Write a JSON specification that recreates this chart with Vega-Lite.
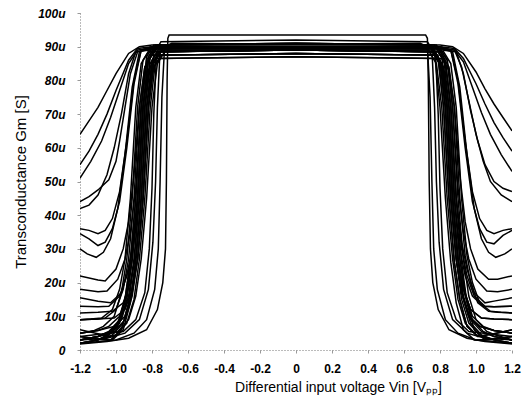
{
"$schema":"https://vega.github.io/schema/vega-lite/v6.json",
"width":432,"height":337,
"autosize":{"type":"none"},
"padding":{"left":80,"top":13,"right":17,"bottom":55},
"background":"white",
"config":{"view":{"stroke":null},"font":"Liberation Sans","axis":{"labelOverlap":false}},
"layer":[
{"data":{"values":[
{"c":1,"x":-1.2,"y":2},{"c":1,"x":-1.1,"y":3},{"c":1,"x":-1.02,"y":4.5},{"c":1,"x":-0.96,"y":8},{"c":1,"x":-0.92,"y":15},{"c":1,"x":-0.89,"y":27},{"c":1,"x":-0.86,"y":45},{"c":1,"x":-0.83,"y":72},{"c":1,"x":-0.8,"y":85},{"c":1,"x":-0.76,"y":88.5},{"c":1,"x":0,"y":89},{"c":1,"x":0.77,"y":88.5},{"c":1,"x":0.81,"y":85},{"c":1,"x":0.84,"y":72},{"c":1,"x":0.87,"y":45},{"c":1,"x":0.9,"y":27},{"c":1,"x":0.93,"y":16},{"c":1,"x":0.97,"y":9},{"c":1,"x":1.03,"y":5.5},{"c":1,"x":1.1,"y":4},{"c":1,"x":1.2,"y":3},
{"c":2,"x":-1.2,"y":3},{"c":2,"x":-1.1,"y":4},{"c":2,"x":-1.04,"y":5.5},{"c":2,"x":-0.98,"y":9},{"c":2,"x":-0.94,"y":16},{"c":2,"x":-0.91,"y":27},{"c":2,"x":-0.88,"y":45},{"c":2,"x":-0.85,"y":72},{"c":2,"x":-0.82,"y":86},{"c":2,"x":-0.78,"y":89.5},{"c":2,"x":0,"y":90},{"c":2,"x":0.76,"y":89.5},{"c":2,"x":0.8,"y":86},{"c":2,"x":0.83,"y":72},{"c":2,"x":0.86,"y":45},{"c":2,"x":0.89,"y":27},{"c":2,"x":0.92,"y":15},{"c":2,"x":0.96,"y":8},{"c":2,"x":1.02,"y":4.5},{"c":2,"x":1.1,"y":3},{"c":2,"x":1.2,"y":2},
{"c":3,"x":-1.2,"y":5},{"c":3,"x":-1.1,"y":5.8},{"c":3,"x":-1.01,"y":7},{"c":3,"x":-0.95,"y":10},{"c":3,"x":-0.91,"y":17},{"c":3,"x":-0.88,"y":27},{"c":3,"x":-0.85,"y":45},{"c":3,"x":-0.82,"y":72},{"c":3,"x":-0.79,"y":84},{"c":3,"x":-0.75,"y":87.5},{"c":3,"x":0,"y":88},{"c":3,"x":0.78,"y":87.5},{"c":3,"x":0.82,"y":84},{"c":3,"x":0.85,"y":72},{"c":3,"x":0.88,"y":45},{"c":3,"x":0.91,"y":27},{"c":3,"x":0.94,"y":17},{"c":3,"x":0.98,"y":10},{"c":3,"x":1.04,"y":7},{"c":3,"x":1.1,"y":5.8},{"c":3,"x":1.2,"y":5},
{"c":4,"x":-1.2,"y":4},{"c":4,"x":-1.1,"y":3.2},{"c":4,"x":-1.03,"y":3},{"c":4,"x":-0.97,"y":6},{"c":4,"x":-0.93,"y":14},{"c":4,"x":-0.9,"y":26},{"c":4,"x":-0.87,"y":45},{"c":4,"x":-0.84,"y":72},{"c":4,"x":-0.81,"y":87},{"c":4,"x":-0.77,"y":90.5},{"c":4,"x":0,"y":91},{"c":4,"x":0.75,"y":90.5},{"c":4,"x":0.79,"y":87},{"c":4,"x":0.82,"y":72},{"c":4,"x":0.85,"y":45},{"c":4,"x":0.88,"y":26},{"c":4,"x":0.91,"y":15},{"c":4,"x":0.95,"y":7},{"c":4,"x":1.01,"y":4},{"c":4,"x":1.1,"y":4.8},{"c":4,"x":1.2,"y":6},
{"c":5,"x":-1.2,"y":6},{"c":5,"x":-1.1,"y":4.8},{"c":5,"x":-1.05,"y":4},{"c":5,"x":-0.99,"y":7},{"c":5,"x":-0.95,"y":15},{"c":5,"x":-0.92,"y":26},{"c":5,"x":-0.89,"y":45},{"c":5,"x":-0.86,"y":72},{"c":5,"x":-0.83,"y":85},{"c":5,"x":-0.79,"y":88.5},{"c":5,"x":0,"y":89},{"c":5,"x":0.79,"y":88.5},{"c":5,"x":0.83,"y":85},{"c":5,"x":0.86,"y":72},{"c":5,"x":0.89,"y":45},{"c":5,"x":0.92,"y":26},{"c":5,"x":0.95,"y":14},{"c":5,"x":0.99,"y":6},{"c":5,"x":1.05,"y":3},{"c":5,"x":1.1,"y":3.2},{"c":5,"x":1.2,"y":4},
{"c":6,"x":-1.2,"y":2},{"c":6,"x":-1.1,"y":3},{"c":6,"x":-1.0,"y":4.5},{"c":6,"x":-0.94,"y":8},{"c":6,"x":-0.9,"y":15},{"c":6,"x":-0.87,"y":27},{"c":6,"x":-0.84,"y":45},{"c":6,"x":-0.81,"y":72},{"c":6,"x":-0.78,"y":86},{"c":6,"x":-0.74,"y":89.5},{"c":6,"x":0,"y":90},{"c":6,"x":0.8,"y":89.5},{"c":6,"x":0.84,"y":86},{"c":6,"x":0.87,"y":72},{"c":6,"x":0.9,"y":45},{"c":6,"x":0.93,"y":27},{"c":6,"x":0.96,"y":16},{"c":6,"x":1.0,"y":9},{"c":6,"x":1.06,"y":5.5},{"c":6,"x":1.1,"y":4.6},{"c":6,"x":1.2,"y":3},
{"c":7,"x":-1.2,"y":9},{"c":7,"x":-1.1,"y":9.2},{"c":7,"x":-1.06,"y":9.5},{"c":7,"x":-1.0,"y":12},{"c":7,"x":-0.96,"y":18},{"c":7,"x":-0.93,"y":27},{"c":7,"x":-0.9,"y":45},{"c":7,"x":-0.87,"y":72},{"c":7,"x":-0.84,"y":84},{"c":7,"x":-0.8,"y":87.5},{"c":7,"x":0,"y":88},{"c":7,"x":0.77,"y":87.5},{"c":7,"x":0.81,"y":84},{"c":7,"x":0.84,"y":72},{"c":7,"x":0.87,"y":45},{"c":7,"x":0.9,"y":27},{"c":7,"x":0.93,"y":18},{"c":7,"x":0.97,"y":12},{"c":7,"x":1.03,"y":9.5},{"c":7,"x":1.1,"y":9.2},{"c":7,"x":1.2,"y":9},
{"c":8,"x":-1.2,"y":11},{"c":8,"x":-1.1,"y":11.2},{"c":8,"x":-1.02,"y":11.5},{"c":8,"x":-0.96,"y":14},{"c":8,"x":-0.92,"y":20},{"c":8,"x":-0.89,"y":28},{"c":8,"x":-0.86,"y":45},{"c":8,"x":-0.83,"y":72},{"c":8,"x":-0.8,"y":83},{"c":8,"x":-0.76,"y":86.5},{"c":8,"x":0,"y":87},{"c":8,"x":0.81,"y":86.5},{"c":8,"x":0.85,"y":83},{"c":8,"x":0.88,"y":72},{"c":8,"x":0.91,"y":45},{"c":8,"x":0.94,"y":28},{"c":8,"x":0.97,"y":20},{"c":8,"x":1.01,"y":14},{"c":8,"x":1.07,"y":11.5},{"c":8,"x":1.12,"y":11.2},{"c":8,"x":1.2,"y":11},
{"c":9,"x":-1.2,"y":13},{"c":9,"x":-1.1,"y":12.8},{"c":9,"x":-1.04,"y":13},{"c":9,"x":-0.98,"y":16},{"c":9,"x":-0.94,"y":22},{"c":9,"x":-0.91,"y":30},{"c":9,"x":-0.88,"y":45},{"c":9,"x":-0.85,"y":72},{"c":9,"x":-0.82,"y":87},{"c":9,"x":-0.78,"y":90.5},{"c":9,"x":0,"y":91},{"c":9,"x":0.78,"y":90.5},{"c":9,"x":0.82,"y":87},{"c":9,"x":0.85,"y":72},{"c":9,"x":0.88,"y":45},{"c":9,"x":0.91,"y":30},{"c":9,"x":0.94,"y":22},{"c":9,"x":0.98,"y":16},{"c":9,"x":1.04,"y":13},{"c":9,"x":1.1,"y":12.8},{"c":9,"x":1.2,"y":13},
{"c":10,"x":-1.2,"y":15.5},{"c":10,"x":-1.1,"y":14.5},{"c":10,"x":-1.03,"y":14},{"c":10,"x":-0.97,"y":17},{"c":10,"x":-0.93,"y":24},{"c":10,"x":-0.9,"y":32},{"c":10,"x":-0.87,"y":45},{"c":10,"x":-0.84,"y":72},{"c":10,"x":-0.81,"y":85},{"c":10,"x":-0.77,"y":88.5},{"c":10,"x":0,"y":89},{"c":10,"x":0.79,"y":88.5},{"c":10,"x":0.83,"y":85},{"c":10,"x":0.86,"y":72},{"c":10,"x":0.89,"y":45},{"c":10,"x":0.92,"y":32},{"c":10,"x":0.95,"y":24},{"c":10,"x":0.99,"y":17},{"c":10,"x":1.05,"y":14},{"c":10,"x":1.1,"y":14.5},{"c":10,"x":1.2,"y":15.5},
{"c":11,"x":-1.2,"y":18},{"c":11,"x":-1.1,"y":17.3},{"c":11,"x":-1.05,"y":17.5},{"c":11,"x":-0.99,"y":21},{"c":11,"x":-0.95,"y":27},{"c":11,"x":-0.92,"y":35},{"c":11,"x":-0.89,"y":48},{"c":11,"x":-0.86,"y":72},{"c":11,"x":-0.83,"y":86},{"c":11,"x":-0.79,"y":89.5},{"c":11,"x":0,"y":90},{"c":11,"x":0.8,"y":89.5},{"c":11,"x":0.84,"y":86},{"c":11,"x":0.87,"y":72},{"c":11,"x":0.9,"y":48},{"c":11,"x":0.93,"y":35},{"c":11,"x":0.96,"y":27},{"c":11,"x":1.0,"y":21},{"c":11,"x":1.06,"y":17.5},{"c":11,"x":1.12,"y":17.3},{"c":11,"x":1.2,"y":18},
{"c":12,"x":-1.2,"y":22},{"c":12,"x":-1.1,"y":20.8},{"c":12,"x":-1.06,"y":20.5},{"c":12,"x":-1.0,"y":24},{"c":12,"x":-0.96,"y":30},{"c":12,"x":-0.93,"y":38},{"c":12,"x":-0.9,"y":52},{"c":12,"x":-0.87,"y":72},{"c":12,"x":-0.84,"y":84},{"c":12,"x":-0.8,"y":87.5},{"c":12,"x":0,"y":88},{"c":12,"x":0.81,"y":87.5},{"c":12,"x":0.85,"y":84},{"c":12,"x":0.88,"y":72},{"c":12,"x":0.91,"y":52},{"c":12,"x":0.94,"y":38},{"c":12,"x":0.97,"y":30},{"c":12,"x":1.01,"y":24},{"c":12,"x":1.07,"y":21},{"c":12,"x":1.12,"y":21},{"c":12,"x":1.2,"y":22},
{"c":13,"x":-1.2,"y":3},{"c":13,"x":-1.1,"y":4},{"c":13,"x":-0.99,"y":5.5},{"c":13,"x":-0.93,"y":9},{"c":13,"x":-0.89,"y":16},{"c":13,"x":-0.86,"y":27},{"c":13,"x":-0.83,"y":45},{"c":13,"x":-0.8,"y":72},{"c":13,"x":-0.77,"y":85},{"c":13,"x":-0.73,"y":88.5},{"c":13,"x":0,"y":89},{"c":13,"x":0.74,"y":88.5},{"c":13,"x":0.78,"y":85},{"c":13,"x":0.81,"y":72},{"c":13,"x":0.84,"y":45},{"c":13,"x":0.87,"y":27},{"c":13,"x":0.9,"y":15},{"c":13,"x":0.94,"y":8},{"c":13,"x":1.0,"y":4.5},{"c":13,"x":1.1,"y":3},{"c":13,"x":1.2,"y":2},
{"c":14,"x":-1.2,"y":5},{"c":14,"x":-1.12,"y":5.8},{"c":14,"x":-1.07,"y":7},{"c":14,"x":-1.01,"y":10},{"c":14,"x":-0.97,"y":17},{"c":14,"x":-0.94,"y":27},{"c":14,"x":-0.91,"y":45},{"c":14,"x":-0.88,"y":72},{"c":14,"x":-0.85,"y":86},{"c":14,"x":-0.81,"y":89.5},{"c":14,"x":0,"y":90},{"c":14,"x":0.76,"y":89.5},{"c":14,"x":0.8,"y":86},{"c":14,"x":0.83,"y":72},{"c":14,"x":0.86,"y":45},{"c":14,"x":0.89,"y":27},{"c":14,"x":0.92,"y":17},{"c":14,"x":0.96,"y":10},{"c":14,"x":1.02,"y":7},{"c":14,"x":1.1,"y":5.8},{"c":14,"x":1.2,"y":5},
{"c":15,"x":-1.2,"y":3},{"c":15,"x":-1.1,"y":4},{"c":15,"x":-1.01,"y":5.5},{"c":15,"x":-0.95,"y":9},{"c":15,"x":-0.91,"y":16},{"c":15,"x":-0.88,"y":27},{"c":15,"x":-0.85,"y":45},{"c":15,"x":-0.82,"y":72},{"c":15,"x":-0.79,"y":88},{"c":15,"x":-0.75,"y":91.5},{"c":15,"x":0,"y":92},{"c":15,"x":0.73,"y":91.5},{"c":15,"x":0.77,"y":88},{"c":15,"x":0.8,"y":72},{"c":15,"x":0.83,"y":45},{"c":15,"x":0.86,"y":26},{"c":15,"x":0.89,"y":14},{"c":15,"x":0.93,"y":6},{"c":15,"x":0.99,"y":3},{"c":15,"x":1.1,"y":3.2},{"c":15,"x":1.2,"y":4},
{"c":16,"x":-1.2,"y":2},{"c":16,"x":-1.1,"y":3},{"c":16,"x":-1.04,"y":4.5},{"c":16,"x":-0.98,"y":8},{"c":16,"x":-0.94,"y":15},{"c":16,"x":-0.91,"y":27},{"c":16,"x":-0.88,"y":45},{"c":16,"x":-0.85,"y":72},{"c":16,"x":-0.82,"y":83},{"c":16,"x":-0.78,"y":86.5},{"c":16,"x":0,"y":87},{"c":16,"x":0.78,"y":86.5},{"c":16,"x":0.82,"y":83},{"c":16,"x":0.85,"y":72},{"c":16,"x":0.88,"y":45},{"c":16,"x":0.91,"y":27},{"c":16,"x":0.94,"y":16},{"c":16,"x":0.98,"y":9},{"c":16,"x":1.04,"y":5.5},{"c":16,"x":1.1,"y":4},{"c":16,"x":1.2,"y":3},
{"c":17,"x":-1.2,"y":9},{"c":17,"x":-1.14,"y":9.2},{"c":17,"x":-1.08,"y":9.5},{"c":17,"x":-1.02,"y":12},{"c":17,"x":-0.98,"y":18},{"c":17,"x":-0.95,"y":27},{"c":17,"x":-0.92,"y":45},{"c":17,"x":-0.89,"y":72},{"c":17,"x":-0.86,"y":85},{"c":17,"x":-0.82,"y":88.5},{"c":17,"x":0,"y":89},{"c":17,"x":0.82,"y":88.5},{"c":17,"x":0.86,"y":85},{"c":17,"x":0.89,"y":72},{"c":17,"x":0.92,"y":45},{"c":17,"x":0.95,"y":28},{"c":17,"x":0.98,"y":20},{"c":17,"x":1.02,"y":14},{"c":17,"x":1.08,"y":11.5},{"c":17,"x":1.14,"y":11.2},{"c":17,"x":1.2,"y":11},
{"c":18,"x":-1.2,"y":4},{"c":18,"x":-1.1,"y":3.2},{"c":18,"x":-1.02,"y":3},{"c":18,"x":-0.96,"y":6},{"c":18,"x":-0.92,"y":14},{"c":18,"x":-0.89,"y":26},{"c":18,"x":-0.86,"y":45},{"c":18,"x":-0.83,"y":72},{"c":18,"x":-0.8,"y":86},{"c":18,"x":-0.76,"y":89.5},{"c":18,"x":0,"y":90},{"c":18,"x":0.75,"y":89.5},{"c":18,"x":0.79,"y":86},{"c":18,"x":0.82,"y":72},{"c":18,"x":0.85,"y":45},{"c":18,"x":0.88,"y":26},{"c":18,"x":0.91,"y":15},{"c":18,"x":0.95,"y":7},{"c":18,"x":1.01,"y":4},{"c":18,"x":1.1,"y":4.8},{"c":18,"x":1.2,"y":6},
{"c":19,"x":-1.2,"y":64},{"c":19,"x":-1.15,"y":68},{"c":19,"x":-1.1,"y":72},{"c":19,"x":-1.05,"y":77},{"c":19,"x":-1.0,"y":82},{"c":19,"x":-0.93,"y":88},{"c":19,"x":-0.87,"y":90},{"c":19,"x":-0.8,"y":90.5},{"c":19,"x":0,"y":90.5},{"c":19,"x":0.8,"y":90.5},{"c":19,"x":0.87,"y":90},{"c":19,"x":0.93,"y":88},{"c":19,"x":1.0,"y":82.5},{"c":19,"x":1.05,"y":77.5},{"c":19,"x":1.1,"y":73},{"c":19,"x":1.15,"y":69},{"c":19,"x":1.2,"y":65},
{"c":20,"x":-1.2,"y":55},{"c":20,"x":-1.15,"y":59},{"c":20,"x":-1.1,"y":64},{"c":20,"x":-1.05,"y":70},{"c":20,"x":-1.0,"y":77},{"c":20,"x":-0.93,"y":86},{"c":20,"x":-0.88,"y":89.5},{"c":20,"x":-0.8,"y":90},{"c":20,"x":0,"y":90},{"c":20,"x":0.8,"y":90},{"c":20,"x":0.88,"y":89.5},{"c":20,"x":0.93,"y":86.5},{"c":20,"x":1.0,"y":79},{"c":20,"x":1.05,"y":73},{"c":20,"x":1.1,"y":67.5},{"c":20,"x":1.15,"y":63},{"c":20,"x":1.2,"y":59},
{"c":21,"x":-1.2,"y":51},{"c":21,"x":-1.14,"y":56},{"c":21,"x":-1.08,"y":62},{"c":21,"x":-1.03,"y":69},{"c":21,"x":-0.98,"y":77},{"c":21,"x":-0.93,"y":85},{"c":21,"x":-0.88,"y":89},{"c":21,"x":-0.8,"y":89.5},{"c":21,"x":0,"y":89.5},{"c":21,"x":0.8,"y":89.5},{"c":21,"x":0.88,"y":89},{"c":21,"x":0.93,"y":85.5},{"c":21,"x":0.98,"y":78},{"c":21,"x":1.03,"y":70.5},{"c":21,"x":1.08,"y":64},{"c":21,"x":1.14,"y":58},{"c":21,"x":1.2,"y":53},
{"c":22,"x":-1.2,"y":44},{"c":22,"x":-1.15,"y":45.5},{"c":22,"x":-1.1,"y":47.5},{"c":22,"x":-1.04,"y":50.5},{"c":22,"x":-1.0,"y":56},{"c":22,"x":-0.98,"y":62},{"c":22,"x":-0.95,"y":72},{"c":22,"x":-0.92,"y":82},{"c":22,"x":-0.88,"y":88.5},{"c":22,"x":-0.81,"y":89.5},{"c":22,"x":0,"y":89.5},{"c":22,"x":0.8,"y":89.5},{"c":22,"x":0.88,"y":89},{"c":22,"x":0.92,"y":84},{"c":22,"x":0.96,"y":74},{"c":22,"x":1.0,"y":64},{"c":22,"x":1.04,"y":56},{"c":22,"x":1.08,"y":50},{"c":22,"x":1.14,"y":46},{"c":22,"x":1.2,"y":44},
{"c":23,"x":-1.2,"y":42},{"c":23,"x":-1.15,"y":43},{"c":23,"x":-1.1,"y":46},{"c":23,"x":-1.05,"y":52},{"c":23,"x":-1.01,"y":60},{"c":23,"x":-0.97,"y":70},{"c":23,"x":-0.93,"y":82},{"c":23,"x":-0.89,"y":88.5},{"c":23,"x":-0.81,"y":89},{"c":23,"x":0,"y":89},{"c":23,"x":0.81,"y":89},{"c":23,"x":0.89,"y":88.5},{"c":23,"x":0.93,"y":82},{"c":23,"x":0.97,"y":71},{"c":23,"x":1.01,"y":62},{"c":23,"x":1.05,"y":55},{"c":23,"x":1.1,"y":50},{"c":23,"x":1.15,"y":48},{"c":23,"x":1.2,"y":47},
{"c":24,"x":-1.2,"y":36},{"c":24,"x":-1.15,"y":35.5},{"c":24,"x":-1.1,"y":34.5},{"c":24,"x":-1.06,"y":35.5},{"c":24,"x":-1.02,"y":39},{"c":24,"x":-0.98,"y":47},{"c":24,"x":-0.94,"y":62},{"c":24,"x":-0.9,"y":80},{"c":24,"x":-0.86,"y":89},{"c":24,"x":-0.8,"y":90},{"c":24,"x":0,"y":90},{"c":24,"x":0.8,"y":90},{"c":24,"x":0.86,"y":89},{"c":24,"x":0.9,"y":80},{"c":24,"x":0.94,"y":62},{"c":24,"x":0.98,"y":47},{"c":24,"x":1.02,"y":39},{"c":24,"x":1.06,"y":35.5},{"c":24,"x":1.1,"y":34.5},{"c":24,"x":1.15,"y":35.5},{"c":24,"x":1.2,"y":36},
{"c":25,"x":-1.2,"y":34.5},{"c":25,"x":-1.15,"y":33},{"c":25,"x":-1.1,"y":31},{"c":25,"x":-1.06,"y":32},{"c":25,"x":-1.02,"y":36},{"c":25,"x":-0.98,"y":44},{"c":25,"x":-0.94,"y":60},{"c":25,"x":-0.9,"y":79},{"c":25,"x":-0.86,"y":89},{"c":25,"x":-0.8,"y":90},{"c":25,"x":0,"y":90},{"c":25,"x":0.8,"y":90},{"c":25,"x":0.86,"y":89},{"c":25,"x":0.9,"y":79},{"c":25,"x":0.94,"y":60},{"c":25,"x":0.98,"y":44},{"c":25,"x":1.02,"y":36},{"c":25,"x":1.06,"y":32},{"c":25,"x":1.1,"y":31.5},{"c":25,"x":1.15,"y":34},{"c":25,"x":1.2,"y":35.5},
{"c":26,"x":-1.2,"y":30},{"c":26,"x":-1.16,"y":28.5},{"c":26,"x":-1.11,"y":27.5},{"c":26,"x":-1.07,"y":29},{"c":26,"x":-1.03,"y":33},{"c":26,"x":-0.99,"y":42},{"c":26,"x":-0.95,"y":58},{"c":26,"x":-0.91,"y":78},{"c":26,"x":-0.87,"y":88.5},{"c":26,"x":-0.8,"y":89.5},{"c":26,"x":0,"y":89.5},{"c":26,"x":0.8,"y":89.5},{"c":26,"x":0.87,"y":88.5},{"c":26,"x":0.91,"y":78},{"c":26,"x":0.95,"y":58},{"c":26,"x":0.99,"y":42},{"c":26,"x":1.03,"y":33},{"c":26,"x":1.07,"y":29},{"c":26,"x":1.11,"y":27.5},{"c":26,"x":1.16,"y":28.5},{"c":26,"x":1.2,"y":30},
{"c":27,"x":-1.2,"y":1.8},{"c":27,"x":-1.05,"y":2.5},{"c":27,"x":-0.93,"y":3.5},{"c":27,"x":-0.83,"y":6},{"c":27,"x":-0.77,"y":12},{"c":27,"x":-0.74,"y":20},{"c":27,"x":-0.725,"y":30},{"c":27,"x":-0.72,"y":50},{"c":27,"x":-0.716,"y":80},{"c":27,"x":-0.712,"y":92.5},{"c":27,"x":-0.705,"y":93.5},{"c":27,"x":0,"y":93.5},{"c":27,"x":0.72,"y":93.5},{"c":27,"x":0.73,"y":92.5},{"c":27,"x":0.735,"y":80},{"c":27,"x":0.74,"y":50},{"c":27,"x":0.747,"y":30},{"c":27,"x":0.76,"y":20},{"c":27,"x":0.79,"y":12},{"c":27,"x":0.85,"y":6},{"c":27,"x":0.95,"y":3.5},{"c":27,"x":1.05,"y":2.5},{"c":27,"x":1.2,"y":1.8},
{"c":28,"x":-1.2,"y":2},{"c":28,"x":-1.0,"y":3},{"c":28,"x":-0.9,"y":5},{"c":28,"x":-0.83,"y":9},{"c":28,"x":-0.785,"y":18},{"c":28,"x":-0.765,"y":30},{"c":28,"x":-0.755,"y":50},{"c":28,"x":-0.745,"y":75},{"c":28,"x":-0.73,"y":90},{"c":28,"x":-0.69,"y":91},{"c":28,"x":0,"y":90.7},{"c":28,"x":0.71,"y":90.5},{"c":28,"x":0.755,"y":89.5},{"c":28,"x":0.77,"y":72},{"c":28,"x":0.78,"y":50},{"c":28,"x":0.795,"y":32},{"c":28,"x":0.82,"y":18},{"c":28,"x":0.87,"y":9},{"c":28,"x":0.95,"y":5},{"c":28,"x":1.05,"y":3.5},{"c":28,"x":1.2,"y":3},
{"c":29,"x":-1.2,"y":3},{"c":29,"x":-1.05,"y":3.5},{"c":29,"x":-0.95,"y":5},{"c":29,"x":-0.87,"y":9},{"c":29,"x":-0.82,"y":18},{"c":29,"x":-0.795,"y":32},{"c":29,"x":-0.78,"y":50},{"c":29,"x":-0.77,"y":72},{"c":29,"x":-0.755,"y":89.5},{"c":29,"x":-0.71,"y":90.5},{"c":29,"x":0,"y":90.7},{"c":29,"x":0.69,"y":91},{"c":29,"x":0.73,"y":90},{"c":29,"x":0.745,"y":75},{"c":29,"x":0.755,"y":50},{"c":29,"x":0.765,"y":30},{"c":29,"x":0.785,"y":18},{"c":29,"x":0.83,"y":9},{"c":29,"x":0.9,"y":5},{"c":29,"x":1.0,"y":3},{"c":29,"x":1.2,"y":2},
{"c":30,"x":-1.2,"y":4},{"c":30,"x":-0.96,"y":5.5},{"c":30,"x":-0.89,"y":9},{"c":30,"x":-0.84,"y":17},{"c":30,"x":-0.815,"y":30},{"c":30,"x":-0.8,"y":48},{"c":30,"x":-0.79,"y":70},{"c":30,"x":-0.775,"y":88},{"c":30,"x":-0.73,"y":89},{"c":30,"x":0,"y":89},{"c":30,"x":0.73,"y":89},{"c":30,"x":0.775,"y":88},{"c":30,"x":0.79,"y":70},{"c":30,"x":0.8,"y":48},{"c":30,"x":0.815,"y":30},{"c":30,"x":0.84,"y":17},{"c":30,"x":0.89,"y":9},{"c":30,"x":0.96,"y":5.5},{"c":30,"x":1.2,"y":4},
{"c":31,"x":-1.2,"y":3},{"c":31,"x":-1.1,"y":4},{"c":31,"x":-1.03,"y":5.5},{"c":31,"x":-0.97,"y":9},{"c":31,"x":-0.93,"y":16},{"c":31,"x":-0.9,"y":27},{"c":31,"x":-0.87,"y":45},{"c":31,"x":-0.84,"y":72},{"c":31,"x":-0.81,"y":84},{"c":31,"x":-0.77,"y":87.5},{"c":31,"x":0,"y":88},{"c":31,"x":0.77,"y":87.5},{"c":31,"x":0.81,"y":84},{"c":31,"x":0.84,"y":72},{"c":31,"x":0.87,"y":45},{"c":31,"x":0.9,"y":27},{"c":31,"x":0.93,"y":15},{"c":31,"x":0.97,"y":8},{"c":31,"x":1.03,"y":4.5},{"c":31,"x":1.1,"y":3},{"c":31,"x":1.2,"y":2},
{"c":32,"x":-1.2,"y":9},{"c":32,"x":-1.1,"y":9.2},{"c":32,"x":-1.01,"y":9.5},{"c":32,"x":-0.95,"y":12},{"c":32,"x":-0.91,"y":18},{"c":32,"x":-0.88,"y":27},{"c":32,"x":-0.85,"y":45},{"c":32,"x":-0.82,"y":72},{"c":32,"x":-0.79,"y":85},{"c":32,"x":-0.75,"y":88.5},{"c":32,"x":0,"y":89},{"c":32,"x":0.76,"y":88.5},{"c":32,"x":0.8,"y":85},{"c":32,"x":0.83,"y":72},{"c":32,"x":0.86,"y":45},{"c":32,"x":0.89,"y":27},{"c":32,"x":0.92,"y":17},{"c":32,"x":0.96,"y":10},{"c":32,"x":1.02,"y":7},{"c":32,"x":1.1,"y":5.8},{"c":32,"x":1.2,"y":5},
{"c":33,"x":-1.2,"y":2},{"c":33,"x":-1.1,"y":3},{"c":33,"x":-1.05,"y":4.5},{"c":33,"x":-0.99,"y":8},{"c":33,"x":-0.95,"y":15},{"c":33,"x":-0.92,"y":27},{"c":33,"x":-0.89,"y":45},{"c":33,"x":-0.86,"y":72},{"c":33,"x":-0.83,"y":87},{"c":33,"x":-0.79,"y":90.5},{"c":33,"x":0,"y":91},{"c":33,"x":0.77,"y":90.5},{"c":33,"x":0.81,"y":87},{"c":33,"x":0.84,"y":72},{"c":33,"x":0.87,"y":45},{"c":33,"x":0.9,"y":27},{"c":33,"x":0.93,"y":18},{"c":33,"x":0.97,"y":12},{"c":33,"x":1.03,"y":9.5},{"c":33,"x":1.1,"y":9.2},{"c":33,"x":1.2,"y":9},
{"c":34,"x":-1.2,"y":5},{"c":34,"x":-1.1,"y":5.8},{"c":34,"x":-1.04,"y":7},{"c":34,"x":-0.98,"y":10},{"c":34,"x":-0.94,"y":17},{"c":34,"x":-0.91,"y":27},{"c":34,"x":-0.88,"y":45},{"c":34,"x":-0.85,"y":72},{"c":34,"x":-0.82,"y":86},{"c":34,"x":-0.78,"y":89.5},{"c":34,"x":0,"y":90},{"c":34,"x":0.79,"y":89.5},{"c":34,"x":0.83,"y":86},{"c":34,"x":0.86,"y":72},{"c":34,"x":0.89,"y":45},{"c":34,"x":0.92,"y":30},{"c":34,"x":0.95,"y":22},{"c":34,"x":0.99,"y":16},{"c":34,"x":1.05,"y":13},{"c":34,"x":1.1,"y":12.8},{"c":34,"x":1.2,"y":13}
]},
"mark":{"type":"line","stroke":"black","strokeWidth":1.5,"clip":true},
"encoding":{
"x":{"field":"x","type":"quantitative","scale":{"domain":[-1.2,1.2],"nice":false,"zero":false},
 "axis":{"title":"Differential input voltage Vin [Vₚₚ]","values":[-1.2,-1.0,-0.8,-0.6,-0.4,-0.2,0,0.2,0.4,0.6,0.8,1.0,1.2],
 "labelExpr":"datum.value==0?'0':replace(format(datum.value,'.1f'),'−','-')",
 "labelFont":"Liberation Sans","labelFontWeight":"bold","labelFontSize":12,"labelColor":"black","labelPadding":10,"labelOverlap":false,
 "tickSize":3,"tickColor":"#999","domainDash":[1,2],"domainColor":"#777","grid":false,
 "titleFont":"Liberation Sans","titleFontSize":14,"titleFontWeight":"normal","titleColor":"black","titlePadding":6,"titleX":258,"labelFlush":false}},
"y":{"field":"y","type":"quantitative","scale":{"domain":[0,100],"nice":false},
 "axis":{"title":"Transconductance Gm [S]","values":[0,10,20,30,40,50,60,70,80,90,100],"tickCount":11,
 "labelExpr":"datum.value==0?'0':datum.value+'u'",
 "labelFont":"Liberation Sans","labelFontWeight":"bold","labelFontStyle":"italic","labelFontSize":12,"labelColor":"black","labelPadding":12,"labelOverlap":false,
 "tickSize":3,"tickColor":"#999","domainDash":[1,2],"domainColor":"#777","grid":false,
 "titleFont":"Liberation Sans","titleFontSize":15,"titleFontWeight":"normal","titleColor":"black","titlePadding":9}},
"detail":{"field":"c","type":"nominal"}
}},
{"mark":{"type":"rule","stroke":"#999","strokeDash":[4,10],"strokeWidth":1},
 "encoding":{"y":{"datum":100,"type":"quantitative","axis":{"title":"Transconductance Gm [S]","values":[0,10,20,30,40,50,60,70,80,90,100],"tickCount":11,
 "labelExpr":"datum.value==0?'0':datum.value+'u'",
 "labelFont":"Liberation Sans","labelFontWeight":"bold","labelFontStyle":"italic","labelFontSize":12,"labelColor":"black","labelPadding":12,"labelOverlap":false,
 "tickSize":3,"tickColor":"#999","domainDash":[1,2],"domainColor":"#777","grid":false,
 "titleFont":"Liberation Sans","titleFontSize":15,"titleFontWeight":"normal","titleColor":"black","titlePadding":9}}}}
]
}
